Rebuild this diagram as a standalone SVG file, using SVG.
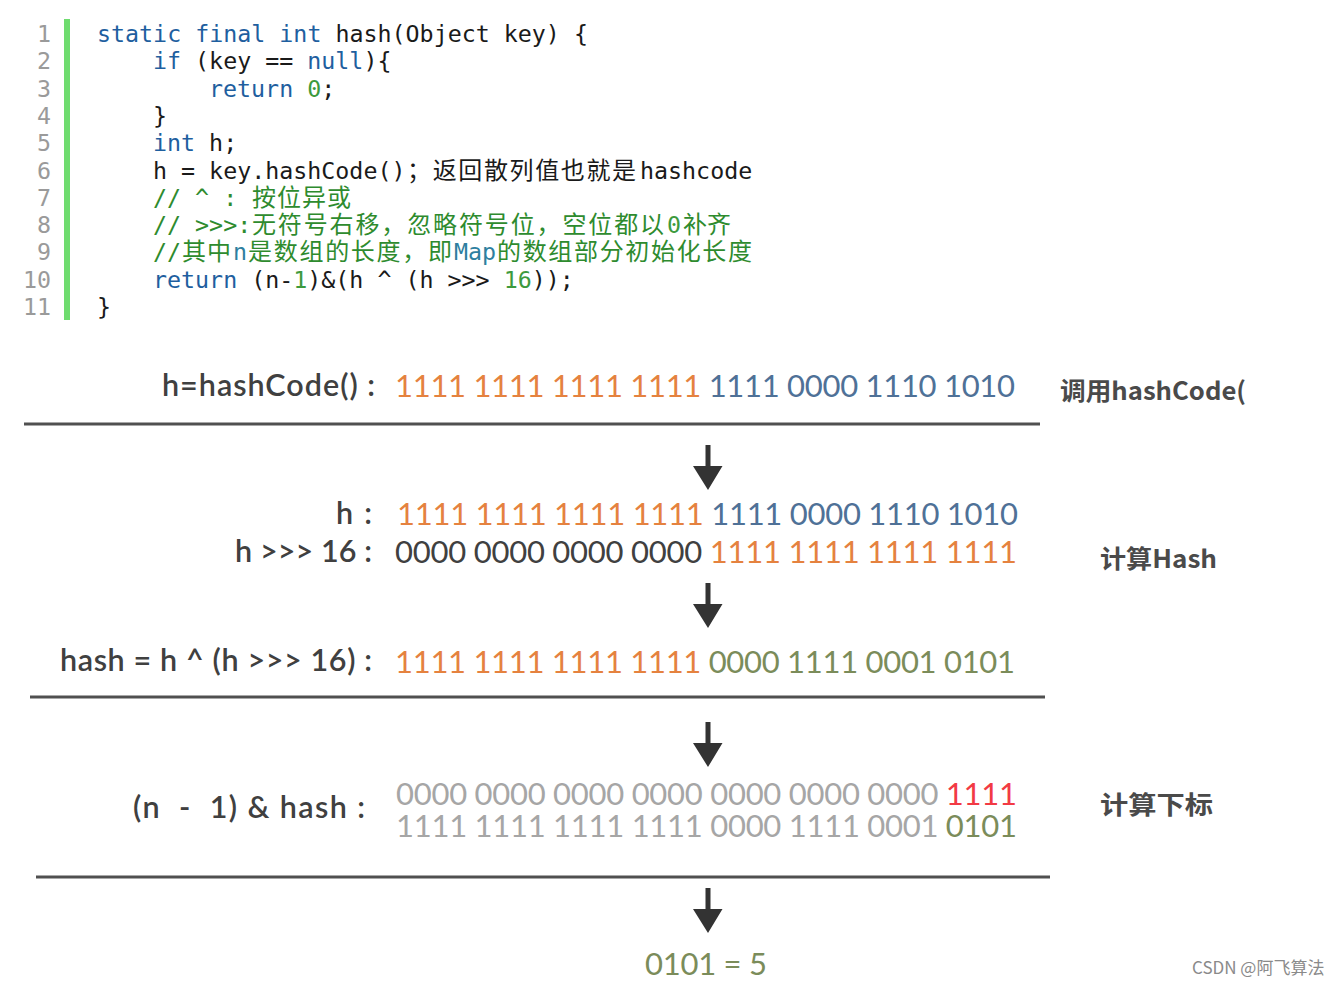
<svg xmlns="http://www.w3.org/2000/svg" width="1344" height="986" viewBox="0 0 1344 986">
<style>
.code{font-family:"DejaVu Sans Mono","Liberation Mono",monospace;font-size:23.3px;fill:#1a1a1a}
.cjk{font-family:"Noto Sans CJK SC",sans-serif;font-size:24px}
.ln{font-family:"DejaVu Sans Mono","Liberation Mono",monospace;font-size:23.3px;fill:#9a9a9a;text-anchor:end}
.kw{fill:#1f5f9f}
.cm{fill:#2e8b2e}
.num{fill:#3d9a3d}
.var{fill:#2e7fa0}
.lbl{font-family:Lato,"Noto Sans CJK SC",sans-serif;font-size:30.5px;fill:#404040;font-weight:600}
.bits{font-family:Lato,"Noto Sans CJK SC",sans-serif;font-size:31px}
.or{fill:#e5823f}
.bl{fill:#4f7197}
.dk{fill:#404040}
.gr{fill:#a6a6a6}
.ol{fill:#7b8c5a}
.rd{fill:#f23a44}
.side{font-family:"Noto Sans CJK SC",sans-serif;font-size:25px;fill:#4a4a4a;font-weight:bold}
.rule{stroke:#505050;stroke-width:3}
.arrow{fill:#333333}
</style>
<g id="code">
<rect x="64" y="19" width="6" height="301" fill="#6fdc6f"/>
<text class="ln" x="51" y="42">1</text>
<text class="ln" x="51" y="69.3">2</text>
<text class="ln" x="51" y="96.6">3</text>
<text class="ln" x="51" y="123.9">4</text>
<text class="ln" x="51" y="151.2">5</text>
<text class="ln" x="51" y="178.5">6</text>
<text class="ln" x="51" y="205.8">7</text>
<text class="ln" x="51" y="233.1">8</text>
<text class="ln" x="51" y="260.4">9</text>
<text class="ln" x="51" y="287.7">10</text>
<text class="ln" x="51" y="315">11</text>
<text class="code" x="97" y="42" xml:space="preserve"><tspan class="kw">static final int</tspan> hash(Object key) {</text>
<text class="code" x="153" y="69.3" xml:space="preserve"><tspan class="kw">if</tspan> (key == <tspan class="kw">null</tspan>){</text>
<text class="code" x="209" y="96.6" xml:space="preserve"><tspan class="kw">return</tspan> <tspan class="num">0</tspan>;</text>
<text class="code" x="153" y="123.9">}</text>
<text class="code" x="153" y="151.2" xml:space="preserve"><tspan class="kw">int</tspan> h;</text>
<text class="code" x="153" y="178.5">h = key.hashCode()</text>
<text class="cjk" x="407" y="178.5" fill="#1a1a1a" textLength="229" lengthAdjust="spacing">；返回散列值也就是</text>
<text class="code" x="640" y="178.5" fill="#2a2440">hashcode</text>
<text class="code cm" x="153" y="205.8">// ^ :</text>
<text class="cjk cm" x="252" y="205.8" textLength="99" lengthAdjust="spacing">按位异或</text>
<text class="code cm" x="153" y="233.1">// &gt;&gt;&gt;:</text>
<text class="cjk cm" x="252" y="233.1" textLength="412" lengthAdjust="spacing">无符号右移，忽略符号位，空位都以</text>
<text class="code num" x="667" y="233.1">0</text>
<text class="cjk cm" x="683" y="233.1" textLength="48" lengthAdjust="spacing">补齐</text>
<text class="code cm" x="153" y="260.4">//</text>
<text class="cjk cm" x="182" y="260.4" textLength="49" lengthAdjust="spacing">其中</text>
<text class="code var" x="233" y="260.4">n</text>
<text class="cjk cm" x="248" y="260.4" textLength="204" lengthAdjust="spacing">是数组的长度，即</text>
<text class="code var" x="454" y="260.4">Map</text>
<text class="cjk cm" x="497" y="260.4" textLength="255" lengthAdjust="spacing">的数组部分初始化长度</text>
<text class="code" x="153" y="287.7" xml:space="preserve"><tspan class="kw">return</tspan> (n-<tspan class="num">1</tspan>)&amp;(h ^ (h &gt;&gt;&gt; <tspan class="num">16</tspan>));</text>
<text class="code" x="97" y="315">}</text>
</g>
<g id="row-hashcode">
<text class="lbl" x="162" y="396" textLength="213" lengthAdjust="spacing">h=hashCode() :</text>
<text class="bits" x="395" y="397" textLength="620" lengthAdjust="spacing" xml:space="preserve"><tspan class="or">1111 1111 1111 1111 </tspan><tspan class="bl">1111 0000 1110 1010</tspan></text>
<text class="side" x="1060" y="400" textLength="186" lengthAdjust="spacingAndGlyphs">调用hashCode(</text>
</g>
<g id="row-h">
<text class="lbl" x="336" y="524" textLength="36" lengthAdjust="spacing">h :</text>
<text class="bits" x="397" y="525" textLength="621" lengthAdjust="spacing" xml:space="preserve"><tspan class="or">1111 1111 1111 1111 </tspan><tspan class="bl">1111 0000 1110 1010</tspan></text>
<text class="lbl" x="235" y="562" textLength="137" lengthAdjust="spacing">h &gt;&gt;&gt; 16 :</text>
<text class="bits" x="395" y="563" textLength="622" lengthAdjust="spacing" xml:space="preserve"><tspan class="dk">0000 0000 0000 0000 </tspan><tspan class="or">1111 1111 1111 1111</tspan></text>
<text class="side" x="1100" y="568" textLength="117" lengthAdjust="spacingAndGlyphs">计算Hash</text>
</g>
<g id="row-hash">
<text class="lbl" x="60" y="671" textLength="312" lengthAdjust="spacing">hash = h ^ (h &gt;&gt;&gt; 16) :</text>
<text class="bits" x="395" y="673" textLength="620" lengthAdjust="spacing" xml:space="preserve"><tspan class="or">1111 1111 1111 1111 </tspan><tspan class="ol">0000 1111 0001 0101</tspan></text>
</g>
<g id="row-index">
<text class="lbl" x="133" y="818" textLength="232" lengthAdjust="spacing" xml:space="preserve">(n  -  1) &amp; hash :</text>
<text class="bits" x="396" y="805" textLength="621" lengthAdjust="spacing" xml:space="preserve"><tspan class="gr">0000 0000 0000 0000 0000 0000 0000 </tspan><tspan class="rd">1111</tspan></text>
<text class="bits" x="396" y="837" textLength="621" lengthAdjust="spacing" xml:space="preserve"><tspan class="gr">1111 1111 1111 1111 0000 1111 0001 </tspan><tspan class="ol">0101</tspan></text>
<text class="side" x="1100" y="814" textLength="113" lengthAdjust="spacingAndGlyphs">计算下标</text>
</g>
<g id="result">
<text class="bits ol" x="645" y="975" textLength="122" lengthAdjust="spacing">0101 = 5</text>
</g>
<g id="connectors">
<line class="rule" x1="24" y1="424" x2="1040" y2="424"/>
<line class="rule" x1="30" y1="697" x2="1045" y2="697"/>
<line class="rule" x1="36" y1="877" x2="1050" y2="877"/>
<path class="arrow" d="M705.5 445 h5 v21 h12 L708 490 L693 466 h12.5 z"/>
<path class="arrow" d="M705.5 583 h5 v21 h12 L708 628 L693 604 h12.5 z"/>
<path class="arrow" d="M705.5 722 h5 v21 h12 L708 767 L693 743 h12.5 z"/>
<path class="arrow" d="M705.5 888 h5 v21 h12 L708 933 L693 909 h12.5 z"/>
</g>
<text x="1192" y="974" font-family="'Noto Sans CJK SC',sans-serif" font-size="17" fill="#8a8a8a">CSDN @阿飞算法</text>
</svg>
